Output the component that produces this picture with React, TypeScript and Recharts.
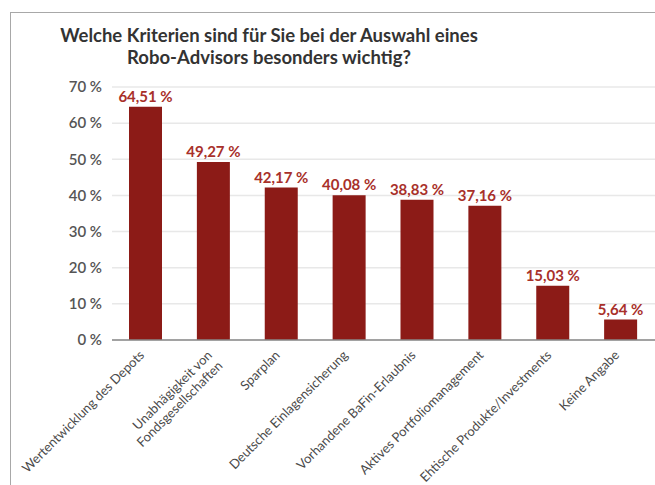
import React from 'react';
import { BarChart, Bar, XAxis, YAxis, CartesianGrid, LabelList } from 'recharts';

const categories = [
  'Wertentwicklung des Depots',
  'Unabhägigkeit von\nFondsgesellschaften',
  'Sparplan',
  'Deutsche Einlagensicherung',
  'Vorhandene BaFin-Erlaubnis',
  'Aktives Portfoliomanagement',
  'Ehtische Produkte/Investments',
  'Keine Angabe',
];
const values = [64.51, 49.27, 42.17, 40.08, 38.83, 37.16, 15.03, 5.64];
const yTicks = [0, 10, 20, 30, 40, 50, 60, 70];

const data = categories.map((name, i) => ({ name, value: values[i] }));

const FONT = 'Lato, "Open Sans", sans-serif';

const fmtPct = (v: number) => v.toFixed(2).replace('.', ',') + ' %';

const XTick = ({ x, y, payload }: any) => {
  const lines = String(payload.value).split('\n');
  return (
    <g transform={`translate(${x - 1},${y + 8}) rotate(-45)`}>
      {lines.map((l, i) => (
        <text key={i} x={0} y={i * 15} textAnchor="end" fill="#4a4a4a" fontSize={13} fontFamily={FONT}>
          {l}
        </text>
      ))}
    </g>
  );
};

const ValueLabel = (p: any) => (
  <text
    x={p.x + p.width / 2}
    y={p.y - 5}
    textAnchor="middle"
    fill="#a8302a"
    fontSize={15}
    fontWeight={700}
    fontFamily={FONT}
  >
    {fmtPct(Number(p.value))}
  </text>
);

export default function App() {
  return (
    <div style={{ position: 'absolute', left: 0, top: 0, width: 655, height: 485, background: '#fff', overflow: 'hidden' }}>
      <div style={{ position: 'absolute', left: 10, top: 12, right: 0, bottom: 0, borderLeft: '1.5px solid #a8a8a8', borderTop: '1.5px solid #a8a8a8' }} />
      <div
        style={{
          position: 'absolute', left: 0, top: 24, width: 538, textAlign: 'center',
          fontFamily: FONT, fontWeight: 700, fontSize: 18.5, lineHeight: '22px', color: '#333',
        }}
      >
        Welche Kriterien sind für Sie bei der Auswahl eines<br />Robo-Advisors besonders wichtig?
      </div>
      <div style={{ position: 'absolute', left: 0, top: 0 }}>
        <BarChart width={655} height={485} data={data} margin={{ top: 87, right: 0, bottom: 0, left: 12 }}>
          <CartesianGrid vertical={false} stroke="#e8e8e8" strokeWidth={1.5} />
          <YAxis
            domain={[0, 70]}
            ticks={yTicks}
            width={100}
            axisLine={false}
            tickLine={false}
            tickMargin={4}
            tickFormatter={(v: number) => `${v} %`}
            tick={{ fill: '#555', fontSize: 15, fontWeight: 600, fontFamily: FONT }}
          />
          <XAxis
            dataKey="name"
            interval={0}
            height={145}
            axisLine={{ stroke: '#888', strokeWidth: 1.5 }}
            tickLine={false}
            tick={<XTick />}
          />
          <Bar dataKey="value" fill="#8c1b17" barSize={33} isAnimationActive={false}>
            <LabelList dataKey="value" content={<ValueLabel />} />
          </Bar>
        </BarChart>
      </div>
    </div>
  );
}
